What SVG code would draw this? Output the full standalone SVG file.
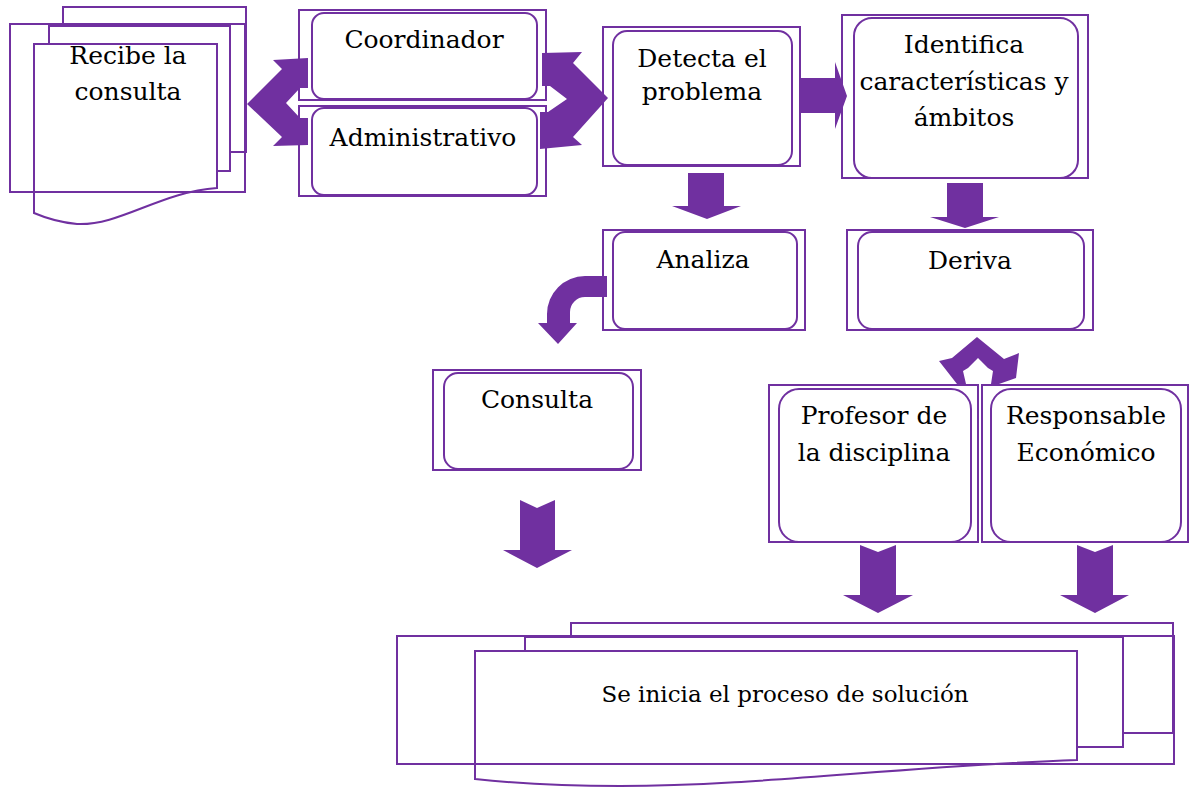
<svg xmlns="http://www.w3.org/2000/svg" width="1189" height="787" viewBox="0 0 1189 787">
<style>
.o{fill:none;stroke:#7030a0;stroke-width:2}
.pg{fill:#fff;stroke:#7030a0;stroke-width:2}
.in{fill:#fff;stroke:#7030a0;stroke-width:2}
.t{font-family:"DejaVu Serif","Liberation Serif",serif;font-size:25px;fill:#000;text-anchor:middle}
.s{font-size:23px}
.a{fill:#7030a0;stroke:none}
</style>
<rect width="1189" height="787" fill="#fff"/>
<g id="recibe">
<rect class="pg" x="63" y="7" width="183" height="145"/>
<rect class="pg" x="49" y="26" width="181" height="145"/>
<path class="pg" d="M34,44 H217 V188 C160,192 120,226 77,224 Q55,222 34,213 Z"/>
<rect class="o" x="10" y="24" width="235" height="168"/>
<text class="t" x="128" y="64">Recibe la</text>
<text class="t" x="128" y="100">consulta</text>
</g>
<g id="coordinador">
<rect class="o" x="299" y="10" width="247" height="90"/>
<rect class="in" x="312" y="13" width="225" height="86" rx="12"/>
<text class="t" x="424" y="48">Coordinador</text>
</g>
<g id="administrativo">
<rect class="o" x="299" y="106" width="247" height="90"/>
<rect class="in" x="312" y="108" width="225" height="87" rx="12"/>
<text class="t" x="423" y="146">Administrativo</text>
</g>
<g id="detecta">
<rect class="o" x="603" y="27" width="197" height="139"/>
<rect class="in" x="613" y="31" width="179" height="134" rx="14"/>
<text class="t" x="702" y="67">Detecta el</text>
<text class="t" x="702" y="100">problema</text>
</g>
<g id="identifica">
<rect class="o" x="842" y="15" width="246" height="163"/>
<rect class="in" x="854" y="18" width="224" height="160" rx="18"/>
<text class="t" x="964" y="53">Identifica</text>
<text class="t" x="964" y="90">características y</text>
<text class="t" x="964" y="126">ámbitos</text>
</g>
<g id="analiza">
<rect class="o" x="603" y="230" width="202" height="100"/>
<rect class="in" x="613" y="232" width="184" height="97" rx="12"/>
<text class="t" x="703" y="268">Analiza</text>
</g>
<g id="deriva">
<rect class="o" x="847" y="230" width="246" height="100"/>
<rect class="in" x="858" y="232" width="226" height="97" rx="14"/>
<text class="t" x="970" y="269">Deriva</text>
</g>
<g id="consulta">
<rect class="o" x="433" y="370" width="208" height="100"/>
<rect class="in" x="444" y="373" width="189" height="96" rx="14"/>
<text class="t" x="537" y="408">Consulta</text>
</g>
<g id="profesor">
<rect class="o" x="769" y="385" width="209" height="157"/>
<rect class="in" x="779" y="389" width="192" height="153" rx="20"/>
<text class="t" x="874" y="424">Profesor de</text>
<text class="t" x="874" y="461">la disciplina</text>
</g>
<g id="responsable">
<rect class="o" x="982" y="385" width="206" height="157"/>
<rect class="in" x="991" y="389" width="190" height="153" rx="20"/>
<text class="t" x="1086" y="424">Responsable</text>
<text class="t" x="1086" y="461">Económico</text>
</g>
<g id="solucion">
<rect class="pg" x="571" y="623" width="602" height="110"/>
<rect class="pg" x="525" y="637" width="598" height="110"/>
<path class="pg" d="M475,651 H1077 V760 C900,766 760,786 620,786 Q540,786 475,779 Z"/>
<rect class="o" x="397" y="636" width="777" height="128"/>
<text class="t s" x="785" y="702">Se inicia el proceso de solución</text>
</g>
<g id="connectors">
<polygon class="a" points="308,58 308,88 300,88 286,103 300,118 308,118 308,145 273,146 282,137 247,104 282,69 273,60"/>
<polygon class="a" points="542,53 582,52 573,63 608,98 573,137 582,145 540,149 540,112 548,112 567,99 550,86 542,86"/>
<polygon class="a" points="801,78 835,78 835,62 847,96 835,129 835,113 801,113"/>
<polygon class="a" points="688,173 724,173 724,206 741,206 707,219 672,206 688,206"/>
<path class="a" d="M607,276 L585,276 A38,38 0 0 0 547,314 L547,323 L538,323 L558,344 L577,323 L570,323 L570,312 A15,15 0 0 1 585,297 L607,297 Z"/>
<polygon class="a" points="520,500 537,508 555,500 555,550 572,550 537,568 503,550 520,550"/>
<polygon class="a" points="947,183 983,183 983,217 999,217 965,228 930,217 947,217"/>
<polygon class="a" points="977,337 1004,359 1019,353 1016,378 999,384 991,384 993,371 988,368 978,358 968,368 963,371 966,384 957,384 939,361 952,358"/>
<polygon class="a" points="860,545 878,552 896,545 896,595 913,595 878,613 843,595 860,595"/>
<polygon class="a" points="1077,545 1095,552 1113,545 1113,595 1129,595 1095,613 1060,595 1077,595"/>
</g>
</svg>
